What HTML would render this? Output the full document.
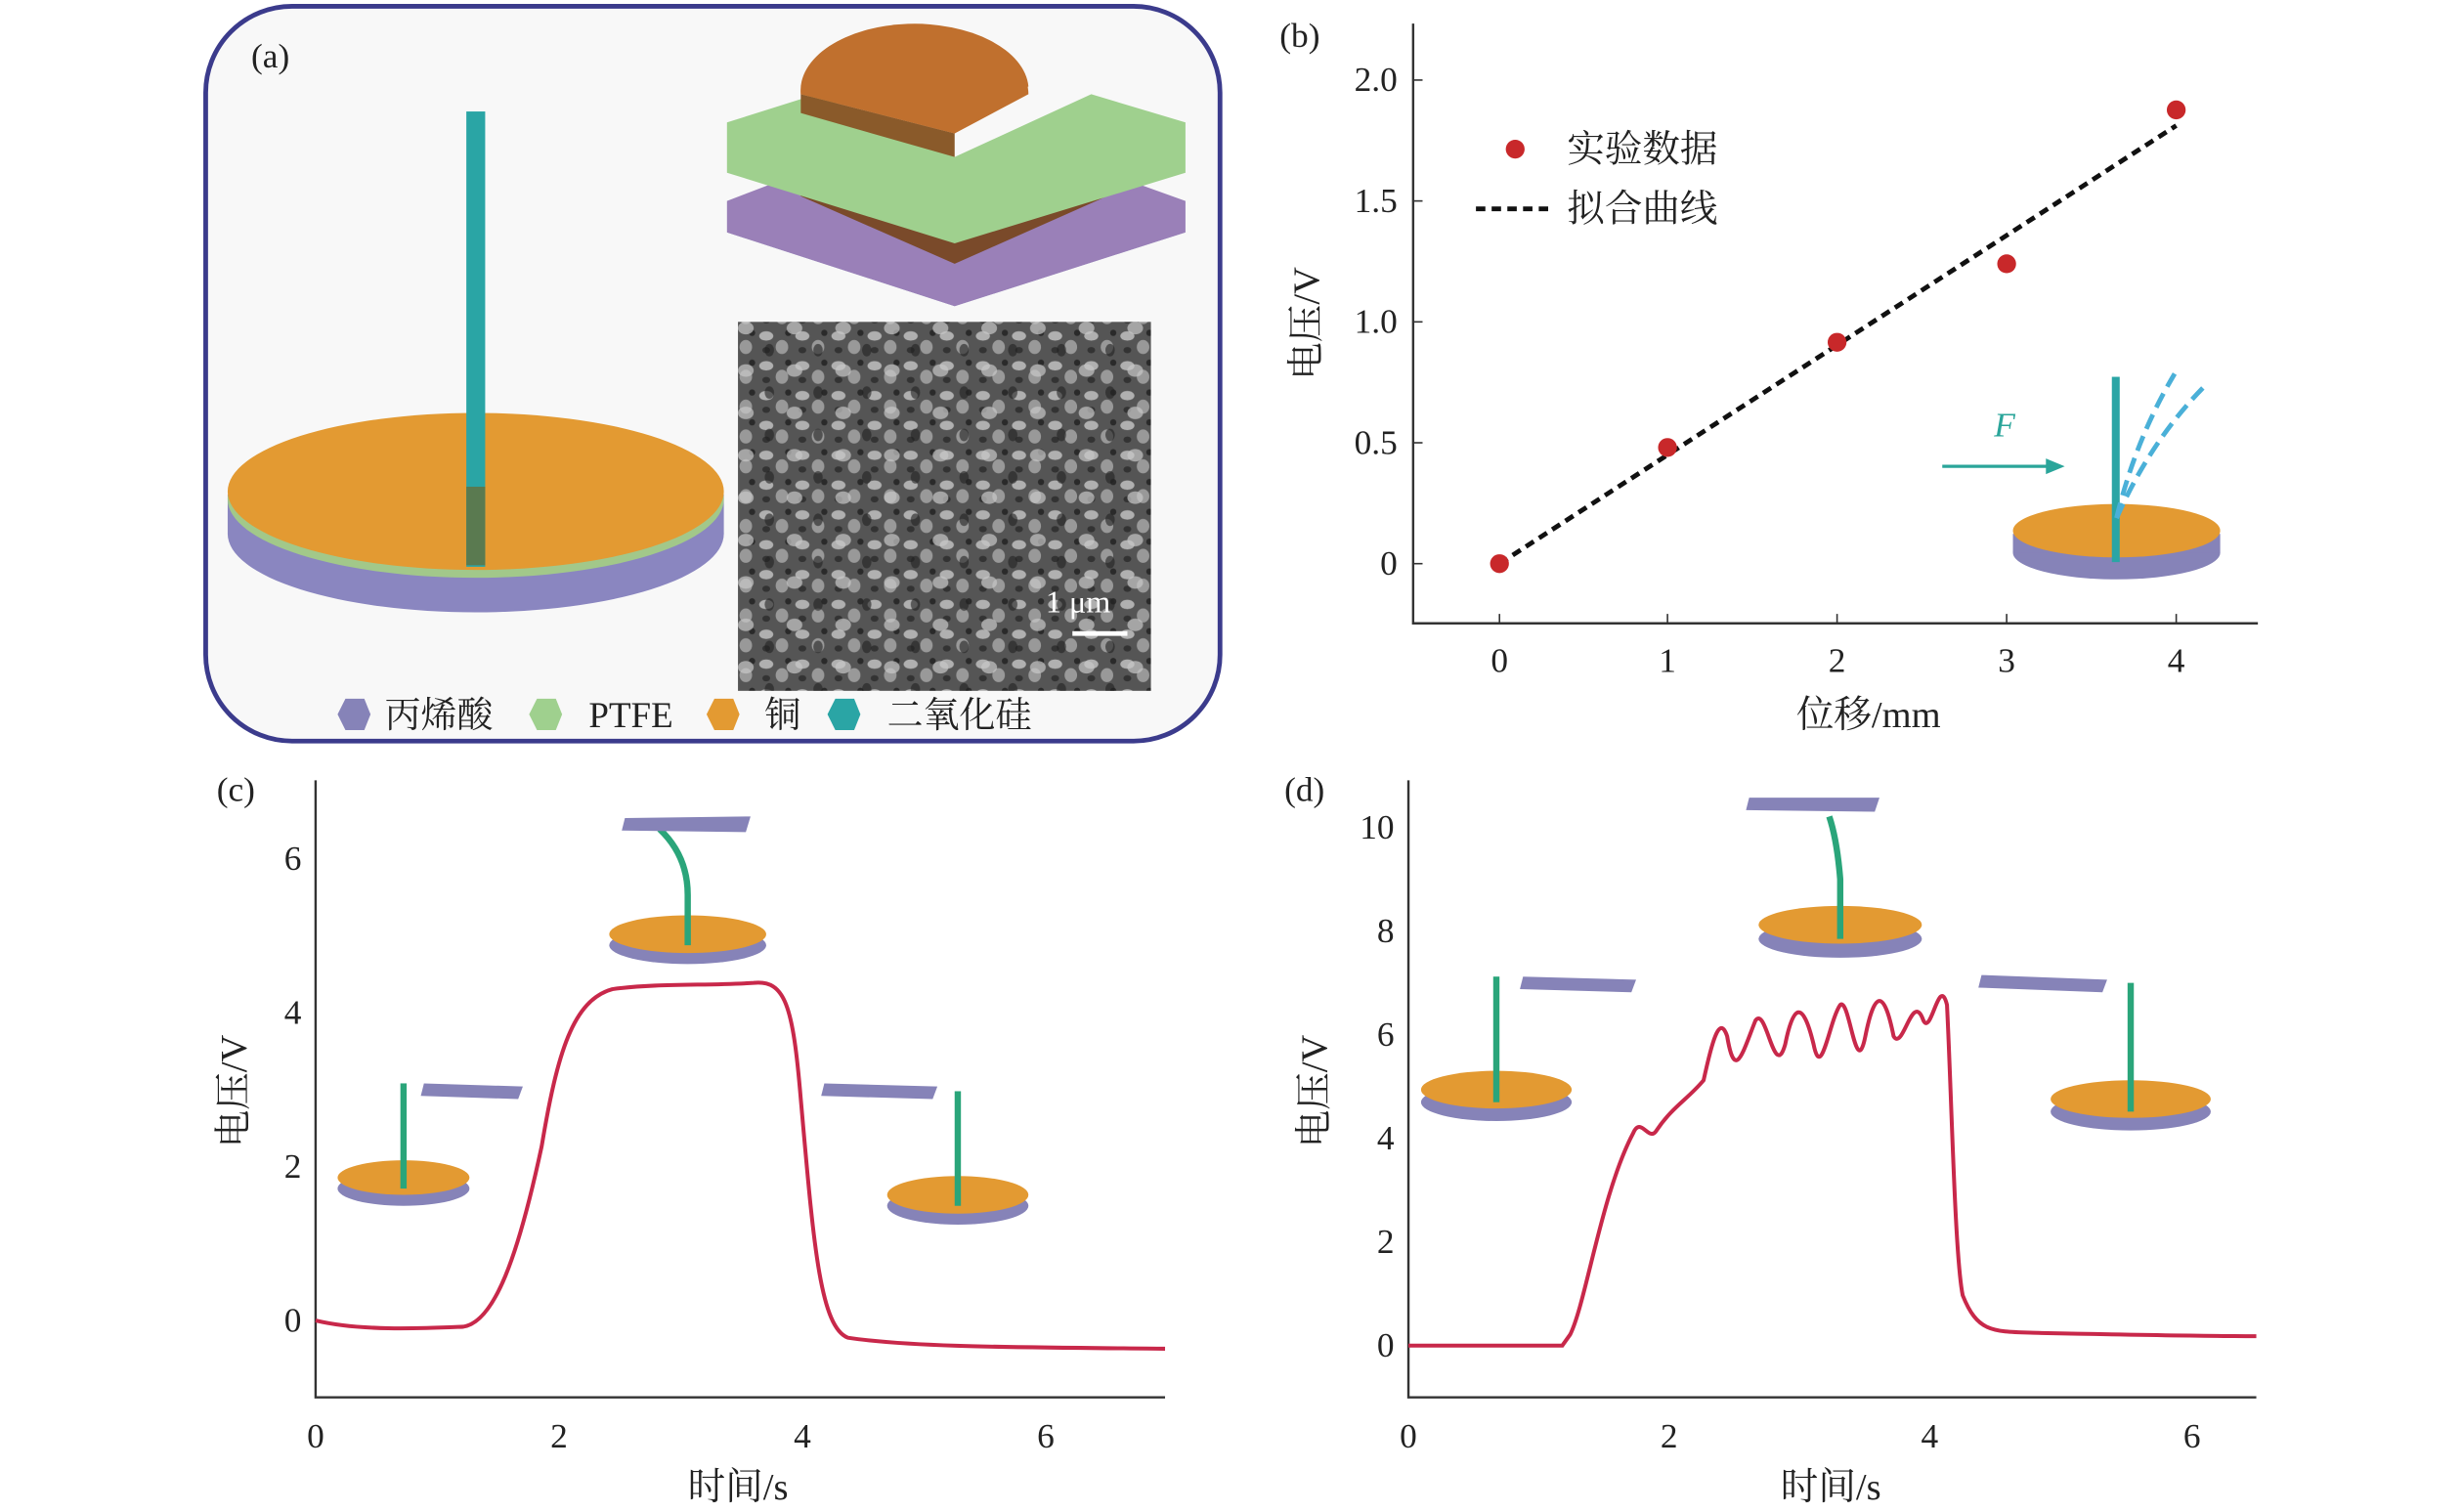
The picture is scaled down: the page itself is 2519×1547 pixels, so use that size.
<!DOCTYPE html>
<html><head><meta charset="utf-8"><style>
html,body{margin:0;padding:0;background:#fff;}
svg{display:block;}
text{font-family:"Liberation Serif","Noto Serif CJK SC",serif;fill:#222;}
</style></head><body>
<svg width="2519" height="1547" viewBox="0 0 1568 963" preserveAspectRatio="none" xmlns="http://www.w3.org/2000/svg">
<defs>
<pattern id="sem" width="23" height="19" patternUnits="userSpaceOnUse">
<rect width="23" height="19" fill="#555"/>
<ellipse cx="5" cy="5" rx="4.5" ry="3" fill="#b0b0b0"/>
<ellipse cx="15" cy="12" rx="4" ry="4.5" fill="#999"/>
<ellipse cx="19" cy="3" rx="2" ry="2" fill="#2a2a2a"/>
<ellipse cx="5" cy="14" rx="2.5" ry="2" fill="#333"/>
</pattern>
<pattern id="sem2" width="31" height="27" patternUnits="userSpaceOnUse">
<ellipse cx="10" cy="20" rx="5" ry="4" fill="#c8c8c8" opacity="0.7"/>
<ellipse cx="25" cy="7" rx="3" ry="4" fill="#222" opacity="0.6"/>
</pattern>
</defs>
<rect width="1568" height="963" fill="#fff"/>
<!-- Panel a -->
<rect x="131" y="4" width="646" height="468" rx="55" fill="#f8f8f8" stroke="#3b3b8c" stroke-width="3"/>
<text x="160" y="43" font-size="22">(a)</text>
<ellipse cx="303" cy="340" rx="158" ry="50" fill="#8a86c0"/>
<rect x="145" y="315" width="316" height="25" fill="#8a86c0"/>
<ellipse cx="303" cy="318" rx="158" ry="50" fill="#a2c88a"/>
<ellipse cx="303" cy="313" rx="158" ry="50" fill="#e39a32"/>
<rect x="297" y="71" width="12" height="290" fill="#2aa5a5"/>
<rect x="297" y="310" width="12" height="50" fill="#5a7a50"/>
<!-- stack -->
<polygon points="463,148 510,130 608,170 705,130 755,148 608,195" fill="#8683b8"/>
<polygon points="463,128 510,110 608,150 705,110 755,128 755,148 608,195 463,148" fill="#9a80b8"/>
<polygon points="510,105 608,148 705,105 705,125 608,168 510,125" fill="#7a4a2a"/>
<polygon points="463,78 520,60 608,100 695,60 755,78 755,110 608,155 463,110" fill="#9fd08e"/>
<path d="M510,60 A72,42 0 0 1 655,60 L608,85 Z" fill="#c0702e"/>
<path d="M510,60 L608,85 L608,100 L510,72 Z" fill="#8a5a2a"/>
<path d="M510,60 A72,42 0 0 1 655,55 L608,85 Z" fill="#c0702e"/>
<rect x="470" y="205" width="263" height="235" fill="url(#sem)"/>
<rect x="470" y="205" width="263" height="235" fill="url(#sem2)"/>
<text x="666" y="390" font-size="20" style="fill:#fff">1 μm</text>
<rect x="683" y="402" width="35" height="3" fill="#fff"/>
<!-- legend -->
<polygon points="220,445 232,445 236,455 232,465 220,465 215,455" fill="#8683b8"/>
<text x="245" y="463" font-size="23">丙烯酸</text>
<polygon points="342,445 354,445 358,455 354,465 342,465 337,455" fill="#9fd08e"/>
<text x="375" y="463" font-size="23">PTFE</text>
<polygon points="455,445 467,445 471,455 467,465 455,465 450,455" fill="#e39a32"/>
<text x="487" y="463" font-size="23">铜</text>
<polygon points="532,445 544,445 548,455 544,465 532,465 527,455" fill="#2aa5a5"/>
<text x="565" y="463" font-size="23">二氧化硅</text>

<!-- Panel b -->
<text x="815" y="30" font-size="22">(b)</text>
<path d="M900,15 V397 H1438" fill="none" stroke="#333" stroke-width="1.5"/>
<g font-size="22" text-anchor="end">
<text x="890" y="366">0</text><text x="890" y="289">0.5</text><text x="890" y="212">1.0</text><text x="890" y="135">1.5</text><text x="890" y="58">2.0</text></g>
<g stroke="#333"><line x1="900" y1="359" x2="906" y2="359"/><line x1="900" y1="282" x2="906" y2="282"/><line x1="900" y1="205" x2="906" y2="205"/><line x1="900" y1="128" x2="906" y2="128"/><line x1="900" y1="51" x2="906" y2="51"/>
<line x1="955" y1="397" x2="955" y2="391"/><line x1="1062" y1="397" x2="1062" y2="391"/><line x1="1170" y1="397" x2="1170" y2="391"/><line x1="1278" y1="397" x2="1278" y2="391"/><line x1="1386" y1="397" x2="1386" y2="391"/></g>
<g font-size="22" text-anchor="middle"><text x="955" y="428">0</text><text x="1062" y="428">1</text><text x="1170" y="428">2</text><text x="1278" y="428">3</text><text x="1386" y="428">4</text></g>
<text x="1190" y="463" font-size="24" text-anchor="middle">位移/mm</text>
<text transform="translate(840,206) rotate(-90)" font-size="24" text-anchor="middle">电压/V</text>
<line x1="955" y1="359" x2="1386" y2="80" stroke="#111" stroke-width="3" stroke-dasharray="6,4"/>
<g fill="#c8282a"><circle cx="955" cy="359" r="6"/><circle cx="1062" cy="285" r="6"/><circle cx="1170" cy="218" r="6"/><circle cx="1278" cy="168" r="6"/><circle cx="1386" cy="70" r="6"/><circle cx="965" cy="95" r="6"/></g>
<text x="998" y="103" font-size="24">实验数据</text>
<line x1="940" y1="133" x2="988" y2="133" stroke="#111" stroke-width="3" stroke-dasharray="6,4"/>
<text x="998" y="141" font-size="24">拟合曲线</text>
<text x="1270" y="278" font-size="22" font-style="italic" style="fill:#2aa59a">F</text>
<line x1="1237" y1="297" x2="1305" y2="297" stroke="#2aa59a" stroke-width="2"/><polygon points="1315,297 1303,292 1303,302" fill="#2aa59a"/>
<ellipse cx="1348" cy="352" rx="66" ry="17" fill="#8683b8"/><rect x="1282" y="340" width="132" height="12" fill="#8683b8"/>
<ellipse cx="1348" cy="338" rx="66" ry="17" fill="#e39a32"/>
<rect x="1345" y="240" width="5" height="118" fill="#2aa5a5"/>
<path d="M1348,330 Q1360,280 1385,238 M1348,330 Q1370,280 1405,245" stroke="#4ab0d8" stroke-width="3" fill="none" stroke-dasharray="10,5"/>

<!-- Panel c -->
<text x="138" y="510" font-size="22">(c)</text>
<path d="M201,497 V890 H742" fill="none" stroke="#333" stroke-width="1.5"/>
<g font-size="22" text-anchor="end"><text x="192" y="848">0</text><text x="192" y="750">2</text><text x="192" y="652">4</text><text x="192" y="554">6</text></g>
<g font-size="22" text-anchor="middle"><text x="201" y="922">0</text><text x="356" y="922">2</text><text x="511" y="922">4</text><text x="666" y="922">6</text></g>
<text x="470" y="955" font-size="24" text-anchor="middle">时间/s</text>
<text transform="translate(157,695) rotate(-90)" font-size="24" text-anchor="middle">电压/V</text>
<path d="M201,841 C230,848 270,846 295,845 C315,842 330,800 345,730 C355,670 365,637 390,630 C420,626 450,628 480,626 C500,624 505,640 510,700 C518,790 522,845 540,852 C580,858 640,858 742,859" fill="none" stroke="#c8284a" stroke-width="2.5"/>
<!-- c insets -->
<ellipse cx="257" cy="757" rx="42" ry="11" fill="#8683b8"/><ellipse cx="257" cy="750" rx="42" ry="11" fill="#e39a32"/><rect x="255" y="690" width="4" height="67" fill="#2aa57a"/>
<polygon points="270,690 333,692 330,700 268,698" fill="#8683b8"/>
<ellipse cx="438" cy="602" rx="50" ry="12" fill="#8683b8"/><ellipse cx="438" cy="595" rx="50" ry="12" fill="#e39a32"/>
<path d="M438,602 V570 Q438,545 420,528" stroke="#2aa57a" stroke-width="4" fill="none"/>
<polygon points="398,521 478,520 475,530 396,529" fill="#8683b8"/>
<ellipse cx="610" cy="768" rx="45" ry="12" fill="#8683b8"/><ellipse cx="610" cy="761" rx="45" ry="12" fill="#e39a32"/><rect x="608" y="695" width="4" height="73" fill="#2aa57a"/>
<polygon points="525,690 597,692 594,700 523,698" fill="#8683b8"/>

<!-- Panel d -->
<text x="818" y="510" font-size="22">(d)</text>
<path d="M897,497 V890 H1437" fill="none" stroke="#333" stroke-width="1.5"/>
<g font-size="22" text-anchor="end"><text x="888" y="864">0</text><text x="888" y="798">2</text><text x="888" y="732">4</text><text x="888" y="666">6</text><text x="888" y="600">8</text><text x="888" y="534">10</text></g>
<g font-size="22" text-anchor="middle"><text x="897" y="922">0</text><text x="1063" y="922">2</text><text x="1229" y="922">4</text><text x="1396" y="922">6</text></g>
<text x="1166" y="955" font-size="24" text-anchor="middle">时间/s</text>
<text transform="translate(845,695) rotate(-90)" font-size="24" text-anchor="middle">电压/V</text>
<path d="M897,857 L995,857 L1000,850 C1010,830 1020,760 1040,722 C1045,710 1050,728 1055,720 C1065,705 1075,700 1085,688 C1090,665 1095,645 1100,660 C1105,690 1110,670 1118,650 C1125,640 1130,690 1137,665 C1142,640 1148,636 1155,665 C1160,690 1165,650 1172,640 C1178,635 1182,690 1188,660 C1194,630 1200,630 1206,660 C1212,670 1218,630 1225,650 C1230,660 1235,620 1240,640 C1243,700 1245,800 1250,825 C1260,850 1270,848 1300,849 C1350,850 1400,851 1437,851" fill="none" stroke="#c8284a" stroke-width="2.5"/>
<!-- d insets -->
<ellipse cx="953" cy="702" rx="48" ry="12" fill="#8683b8"/><ellipse cx="953" cy="694" rx="48" ry="12" fill="#e39a32"/><rect x="951" y="622" width="4" height="80" fill="#2aa57a"/>
<polygon points="970,622 1042,624 1039,632 968,630" fill="#8683b8"/>
<ellipse cx="1172" cy="598" rx="52" ry="12" fill="#8683b8"/><ellipse cx="1172" cy="589" rx="52" ry="12" fill="#e39a32"/>
<path d="M1172,598 V560 Q1170,535 1165,520" stroke="#2aa57a" stroke-width="4" fill="none"/>
<polygon points="1114,508 1197,508 1194,517 1112,516" fill="#8683b8"/>
<ellipse cx="1357" cy="708" rx="51" ry="12" fill="#8683b8"/><ellipse cx="1357" cy="700" rx="51" ry="12" fill="#e39a32"/><rect x="1355" y="626" width="4" height="82" fill="#2aa57a"/>
<polygon points="1262,621 1342,624 1339,632 1260,629" fill="#8683b8"/>
</svg>
</body></html>
